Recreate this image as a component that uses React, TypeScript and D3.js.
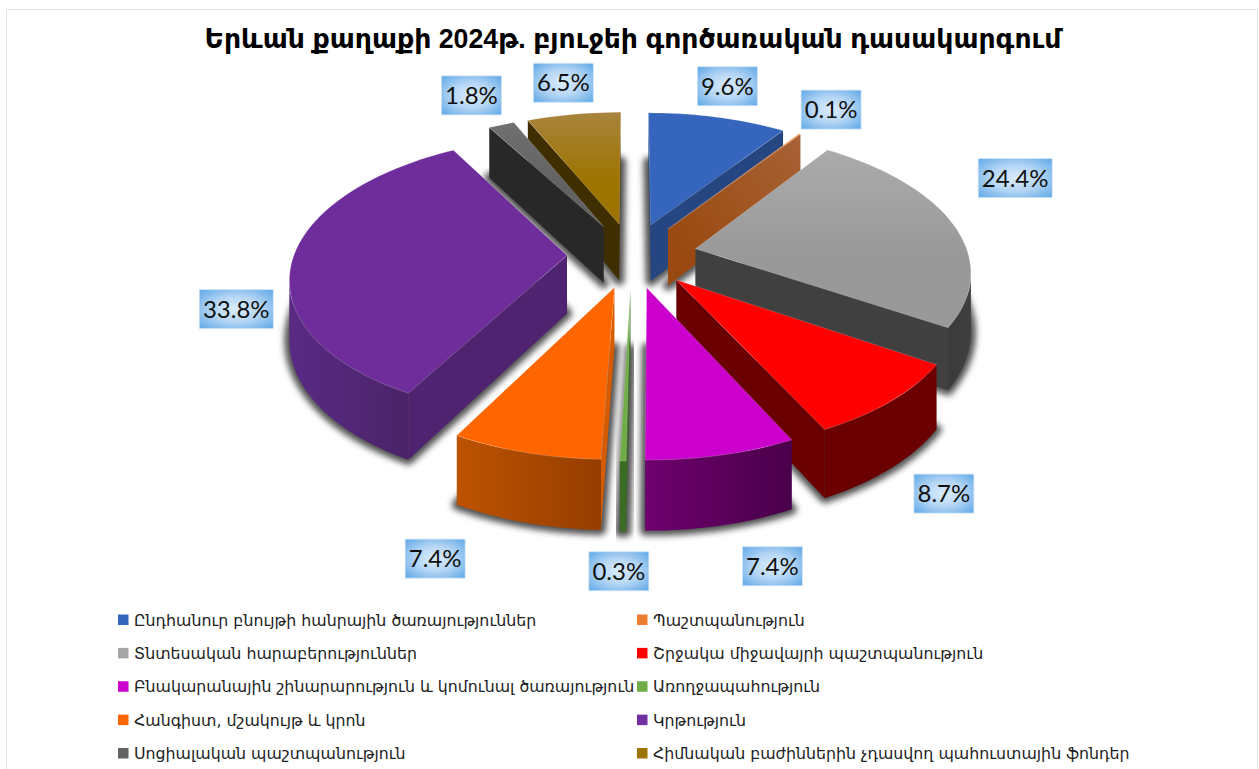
import React from "react";
import * as d3 from "d3";

const width = 1259;
const height = 769;

const title = "Երևան քաղաքի 2024թ. բյուջեի գործառական դասակարգում";

const categories = [
  "Ընդհանուր բնույթի հանրային ծառայություններ",
  "Պաշտպանություն",
  "Տնտեսական հարաբերություններ",
  "Շրջակա միջավայրի պաշտպանություն",
  "Բնակարանային շինարարություն և կոմունալ ծառայություն",
  "Առողջապահություն",
  "Հանգիստ, մշակույթ և կրոն",
  "Կրթություն",
  "Սոցիալական պաշտպանություն",
  "Հիմնական բաժիններին չդասվող պահուստային ֆոնդեր",
];
const values = [9.6, 0.1, 24.4, 8.7, 7.4, 0.3, 7.4, 33.8, 1.8, 6.5];

// colours, in slice order
const swatchColors = ["#3565bd", "#ed7d31", "#a5a5a5", "#ff0000", "#cc00cc", "#70ad47", "#ff6600", "#7030a0", "#636363", "#9e7400"];
const topBack = ["#3565bd", "#ed7d31", "#ababab", "#ff0000", "#cc00cc", "#70ad47", "#ff6600", "#6f2d9b", "#707070", "#a8843e"];
const topFront = ["#3565bd", "#ed7d31", "#999999", "#ff0000", "#cc00cc", "#70ad47", "#ff6600", "#6f2d9b", "#626262", "#9e7400"];
const wallNear = ["#264682", "#9a4a10", "#404040", "#6a0000", "#5c005c", "#3b6b24", "#d65a00", "#4f2370", "#282828", "#3f2e00"];
const wallFar = ["#264682", "#a86236", "#404040", "#6a0000", "#5c005c", "#3b6b24", "#d65a00", "#4f2370", "#282828", "#3f2e00"];
const arcStart = ["#264682", "#a86236", "#404040", "#6a0000", "#4a004a", "#3b6b24", "#953d00", "#4a2368", "#282828", "#3f2e00"];
const arcEnd = ["#264682", "#a86236", "#3a3a3a", "#6a0000", "#6e006e", "#3b6b24", "#bd5300", "#5a2a85", "#282828", "#3f2e00"];

// data label placement, relative to the outer edge of each slice
const labelNudge = [[9, -30], [30, -23.5], [60, -45], [50, 91], [50, 109], [-4, 108], [-89, 104], [-54, 52], [-29, -28.5], [-10, -30.5]];

// fake 3D: disc in world units, seen from above with some perspective
const cx = 632;
const cy = 255;
const radius = 273;
const explode = 65;
const depth = 58;
const camera = 1877;
const tilt = 0.5;

const project = (x: number, y: number, z: number): [number, number] => {
  const s = camera / (camera - y);
  return [cx + x * s, cy + (y * tilt + z) * s];
};

const arcs = d3.pie<number>().sort(null).value(d => d)(values);

const slices = arcs.map((a, i) => {
  const mid = (a.startAngle + a.endAngle) / 2;
  const ox = explode * Math.sin(mid);
  const oy = -explode * Math.cos(mid);
  const steps = Math.max(2, Math.ceil((a.endAngle - a.startAngle) / 0.03));
  const angles = d3.range(steps + 1).map(k => a.startAngle + (a.endAngle - a.startAngle) * k / steps);
  const rim = angles.map(t => [ox + radius * Math.sin(t), oy - radius * Math.cos(t)] as [number, number]);
  return { i, mid, ox, oy, rim };
});

const line = d3.line();
const closed = (pts: [number, number][]) => line(pts) + "Z";

const wall = (a: [number, number], b: [number, number]) => [
  project(a[0], a[1], 0),
  project(b[0], b[1], 0),
  project(b[0], b[1], depth),
  project(a[0], a[1], depth),
] as [number, number][];

const faces = (rim: [number, number][], ox: number, oy: number, z: number) =>
  [project(ox, oy, z), ...rim.map(p => project(p[0], p[1], z))] as [number, number][];

const drawOrder = d3.sort(slices, s => -Math.cos(s.mid));

function Slice({ s }: { s: (typeof slices)[number] }) {
  const { i, ox, oy, rim } = s;
  const tip: [number, number] = [ox, oy];
  const first = rim[0];
  const last = rim[rim.length - 1];
  const startWall = wall(tip, first);
  const endWall = wall(last, tip);

  // rim wall: only the part that faces the viewer, as one shape
  const visible = d3.pairs(rim).filter(([a, b]) => d3.polygonArea(wall(a, b)) > 0);
  const rimPts: [number, number][] = visible.length ? [visible[0][0], ...visible.map(d => d[1])] : [];
  const rimTop = rimPts.map(p => project(p[0], p[1], 0));
  const rimBottom = rimPts.map(p => project(p[0], p[1], depth)).reverse();

  const radial = (poly: [number, number][], near: [number, number], far: [number, number], id: string) => {
    if (d3.polygonArea(poly) <= 0) return null;
    return (
      <g>
        <linearGradient id={id} gradientUnits="userSpaceOnUse" x1={near[0]} y1={near[1]} x2={far[0]} y2={far[1]}>
          <stop offset="0" stopColor={wallNear[i]} />
          <stop offset="1" stopColor={wallFar[i]} />
        </linearGradient>
        <path d={closed(poly)} fill={`url(#${id})`} />
      </g>
    );
  };
  const tipTop = project(ox, oy, 0);
  const top = faces(rim, ox, oy, 0);
  const topY = d3.extent(top, p => p[1]) as [number, number];
  return (
    <g>
      {radial(startWall, tipTop, project(first[0], first[1], 0), `ws${i}`)}
      {radial(endWall, tipTop, project(last[0], last[1], 0), `we${i}`)}
      {rimPts.length > 1 && (
        <g>
          <linearGradient id={`rim${i}`} gradientUnits="userSpaceOnUse" x1={rimTop[0][0]} y1={0} x2={rimTop[rimTop.length - 1][0]} y2={0}>
            <stop offset="0" stopColor={arcStart[i]} />
            <stop offset="1" stopColor={arcEnd[i]} />
          </linearGradient>
          <path d={closed([...rimTop, ...rimBottom])} fill={`url(#rim${i})`} />
        </g>
      )}
      <linearGradient id={`top${i}`} gradientUnits="userSpaceOnUse" x1={0} x2={0} y1={topY[0]} y2={topY[1]}>
        <stop offset="0" stopColor={topBack[i]} />
        <stop offset="0.6" stopColor={topFront[i]} />
      </linearGradient>
      <path d={closed(top)} fill={`url(#top${i})`} stroke="#fff" strokeOpacity={0.25} strokeWidth={0.7} />
    </g>
  );
}

const legendRows = d3.scalePoint<number>().domain(d3.range(5)).range([619.5, 753]);
const legendCols = [118, 637];

export default function App() {
  return (
    <svg width={width} height={height} style={{ position: "absolute", left: 0, top: 0, background: "#fff" }}>
      <defs>
        <filter id="soft" x="-30%" y="-30%" width="160%" height="160%">
          <feGaussianBlur stdDeviation="3" />
        </filter>
        <radialGradient id="labelFill" cx="50%" cy="50%" r="65%">
          <stop offset="0" stopColor="#dcedfd" />
          <stop offset="0.5" stopColor="#b5d6f5" />
          <stop offset="1" stopColor="#6aaee8" />
        </radialGradient>
      </defs>

      <path d={`M6.5,${height}V9.5H1257.5V${height}`} fill="none" stroke="#e2e2e2" />

      <text x={633} y={48} textAnchor="middle" textLength={857} lengthAdjust="spacingAndGlyphs" fontFamily="'Liberation Sans','DejaVu Sans'" fontWeight="bold" fontSize={27}>
        {title}
      </text>

      {slices.map(s => (
        <path key={s.i} d={closed(faces(s.rim, s.ox, s.oy, depth))} fill="#333" stroke="#333" strokeWidth={10} strokeLinejoin="round" opacity={0.85} filter="url(#soft)" />
      ))}
      {drawOrder.map(s => <Slice key={s.i} s={s} />)}

      {slices.map(s => {
        const r = 341;
        const [ax, ay] = project(r * Math.sin(s.mid), -r * Math.cos(s.mid), 0);
        const lx = ax + labelNudge[s.i][0];
        const ly = ay + labelNudge[s.i][1];
        const text = d3.format(".1f")(values[s.i]) + "%";
        const w = text.length > 4 ? 74 : 60;
        return (
          <g key={s.i}>
            <rect x={lx - w / 2} y={ly - 19.5} width={w} height={39} fill="url(#labelFill)" stroke="#cfe4f8" strokeWidth={0.8} />
            <text x={lx} y={ly + 8.5} textAnchor="middle" fontFamily="Lato" fontSize={24} fill="#111">{text}</text>
          </g>
        );
      })}

      {categories.map((c, i) => {
        const col = legendCols[i % 2];
        const y = legendRows(Math.floor(i / 2)) as number;
        return (
          <g key={c}>
            <rect x={col} y={y - 5} width={10.5} height={10.5} fill={swatchColors[i]} />
            <text x={col + 16} y={y + 6} fontFamily="'DejaVu Sans'" fontSize={15.8} fill="#222">{c}</text>
          </g>
        );
      })}
    </svg>
  );
}
